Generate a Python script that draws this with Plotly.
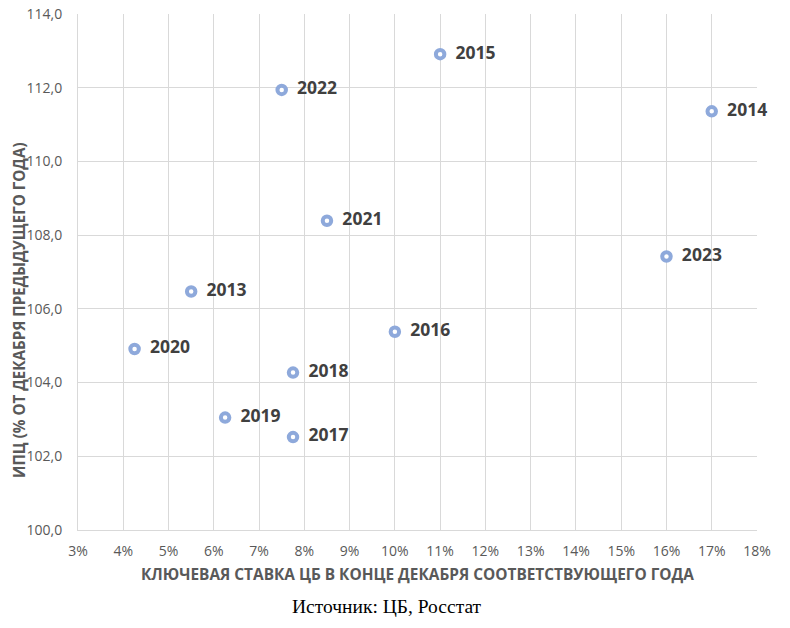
import plotly.graph_objects as go

years = ["2013", "2014", "2015", "2016", "2017", "2018", "2019", "2020", "2021", "2022", "2023"]
key_rate = [5.5, 17.0, 11.0, 10.0, 7.75, 7.75, 6.25, 4.25, 8.5, 7.5, 16.0]
cpi = [106.47, 111.36, 112.91, 105.38, 102.52, 104.27, 103.05, 104.91, 108.39, 111.94, 107.42]

x_ticks = list(range(3, 19))
y_ticks = [100, 102, 104, 106, 108, 110, 112, 114]

fig = go.Figure()
fig.add_trace(go.Scatter(
    x=key_rate, y=cpi, text=["\u00a0\u00a0" + y for y in years],
    mode="markers+text",
    textposition="middle right",
    textfont=dict(family="Open Sans", size=17.5, color="#404040", weight="bold"),
    marker=dict(size=8.5, color="white", line=dict(color="#8EA9DB", width=4)),
    cliponaxis=False,
    hoverinfo="skip",
))

fig.update_layout(
    width=790, height=628,
    margin=dict(l=78, r=33, t=14, b=98),
    paper_bgcolor="white", plot_bgcolor="white",
    separators=", ",
    showlegend=False,
    font=dict(family="Open Sans", color="#595959"),
    xaxis=dict(
        range=[3, 18], tickvals=x_ticks, ticktext=[f"{v}%" for v in x_ticks],
        showgrid=True, gridcolor="#D9D9D9", gridwidth=1, automargin=False,
        zeroline=False, showline=True, linecolor="#D9D9D9", ticklabeloverflow="allow",
        tickfont=dict(size=14, color="#595959"), ticks="", ticklabelstandoff=8,
    ),
    yaxis=dict(
        range=[100, 114], tickvals=y_ticks, ticktext=[f"{v},0" for v in y_ticks],
        showgrid=True, gridcolor="#D9D9D9", gridwidth=1, automargin=False,
        zeroline=False, showline=True, linecolor="#D9D9D9", ticklabeloverflow="allow",
        tickfont=dict(size=14, color="#595959"), ticks="", ticklabelstandoff=12,
    ),
    annotations=[
        dict(text="<b>КЛЮЧЕВАЯ СТАВКА ЦБ В КОНЦЕ ДЕКАБРЯ СООТВЕТСТВУЮЩЕГО ГОДА</b>",
             xref="paper", yref="paper", x=0.5, y=-0.0872, xanchor="center", yanchor="middle",
             showarrow=False, font=dict(family="Open Sans", size=15.4, color="#595959")),
        dict(text="<b>ИПЦ (% ОТ ДЕКАБРЯ ПРЕДЫДУЩЕГО ГОДА)</b>",
             xref="paper", yref="paper", x=-0.0869, y=0.4264, xanchor="center", yanchor="middle",
             textangle=-90,
             showarrow=False, font=dict(family="Open Sans", size=15.2, color="#595959")),
        dict(text="Источник: ЦБ, Росстат",
             xref="paper", yref="paper", x=0.455, y=-0.149, xanchor="center", yanchor="middle",
             showarrow=False, font=dict(family="Liberation Serif", size=19.5, color="#000000")),
    ],
)

fig.write_html("out.html", config={"displayModeBar": False},
               post_script="document.body.style.margin='0';document.body.style.overflow='hidden';")
